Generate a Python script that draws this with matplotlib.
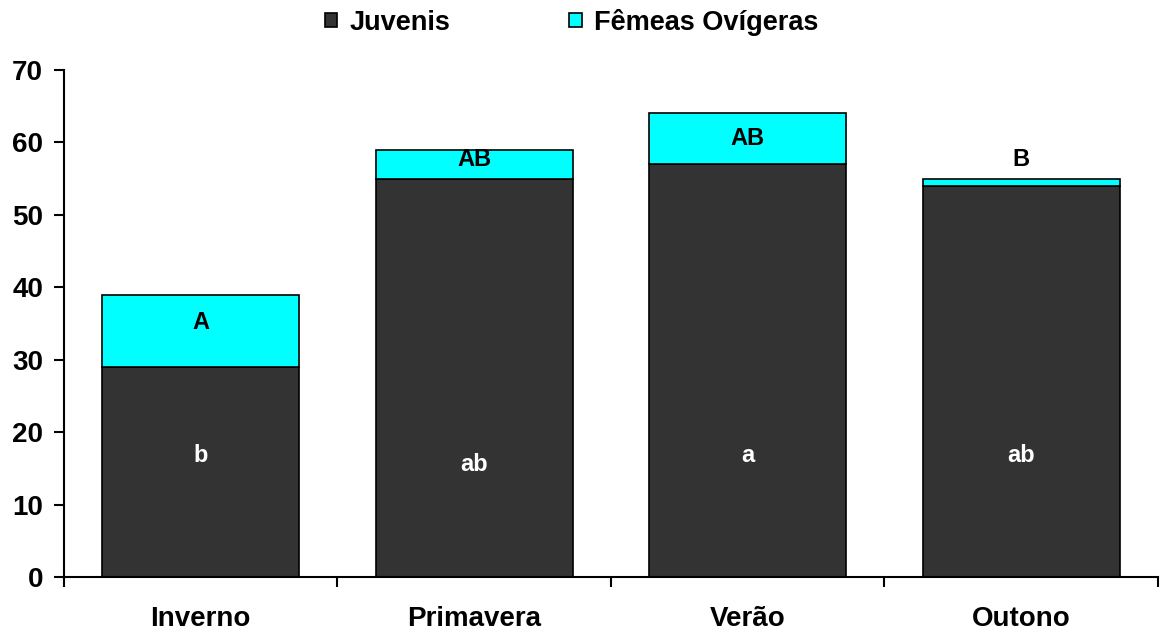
import matplotlib.pyplot as plt
import numpy as np

plt.rcParams['font.family'] = ['Liberation Sans', 'DejaVu Sans']
plt.rcParams['font.weight'] = 'bold'

estacoes = ['Inverno', 'Primavera', 'Verão', 'Outono']
juvenis = [29, 55, 57, 54]
femeas = [10, 4, 7, 1]
letras_juv = ['b', 'ab', 'a', 'ab']
letras_fem = ['A', 'AB', 'AB', 'B']
# heights where the letters sit
y_juv = [16.8, 15.5, 16.8, 16.8]
y_fem = [35.2, 57.6, 60.5, 57.6]

fig = plt.figure(figsize=(11.61, 6.35), dpi=100)
ax = fig.add_axes([0.0551, 0.0913, 0.9423, 0.7985])

x = np.arange(len(estacoes))
w = 0.72
ax.bar(x, juvenis, w, color='#333333', edgecolor='black', linewidth=1.2, label='Juvenis')
ax.bar(x, femeas, w, bottom=juvenis, color='#00FFFF', edgecolor='black', linewidth=1.2,
       label='Fêmeas Ovígeras')

for i in x:
    ax.text(i, y_juv[i], letras_juv[i], ha='center', va='center', color='white',
            fontsize=17, fontweight='bold')
    ax.text(i, y_fem[i], letras_fem[i], ha='center', va='center', color='black',
            fontsize=17, fontweight='bold')

ax.set_xlim(-0.5, len(estacoes) - 0.5)
ax.set_ylim(0, 70)
ax.set_yticks(range(0, 71, 10))
ax.set_xticks(x)
ax.set_xticklabels(estacoes)
ax.set_xticks(np.arange(-0.5, len(estacoes), 1), minor=True)
ax.tick_params(axis='x', which='major', length=0, pad=21, labelsize=20)
ax.tick_params(axis='x', which='minor', length=7, width=1.5, direction='out')
ax.tick_params(axis='y', length=7, width=1.5, pad=8, labelsize=20)

for s in ['top', 'right']:
    ax.spines[s].set_visible(False)
for s in ['left', 'bottom']:
    ax.spines[s].set_linewidth(1.5)

ax.legend(loc='center', bbox_to_anchor=(0.464, 1.094), ncol=2, frameon=False,
          fontsize=19.5, handlelength=0.45, handleheight=0.45, handletextpad=0.45,
          columnspacing=4.4)

fig.savefig('out.png', dpi=100)
